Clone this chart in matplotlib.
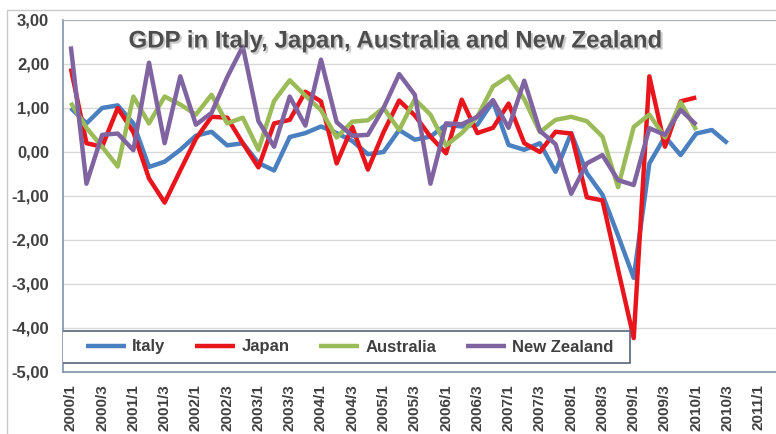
import numpy as np
import matplotlib.pyplot as plt
from matplotlib.patches import Rectangle
import matplotlib.patheffects as pe

plt.rcParams['font.family'] = ['Liberation Sans', 'DejaVu Sans']

# quarterly categories 2000/1 .. 2011/2
quarters = [f"{y}/{q}" for y in range(2000, 2012) for q in range(1, 5)][:46]
tick_labels = quarters[::2][:23]

italy = [1.00, 0.65, 1.00, 1.06, 0.65, -0.34, -0.22, 0.05, 0.37, 0.46,
         0.15, 0.20, -0.25, -0.42, 0.34, 0.43, 0.58, 0.43, 0.25, -0.05,
         0.00, 0.50, 0.28, 0.35, 0.62, 0.58, 0.62, 1.15, 0.16, 0.05,
         0.20, -0.45, 0.43, -0.48, -0.97, -1.90, -2.86, -0.26, 0.35, -0.07,
         0.42, 0.50, 0.20]
japan = [1.90, 0.20, 0.12, 1.00, 0.45, -0.60, -1.15, -0.42, 0.30, 0.80,
         0.78, 0.20, -0.35, 0.65, 0.73, 1.37, 1.15, -0.26, 0.57, -0.40,
         0.45, 1.17, 0.83, 0.35, -0.03, 1.19, 0.43, 0.55, 1.10, 0.20,
         0.00, 0.46, 0.42, -1.03, -1.10, -2.67, -4.23, 1.72, 0.12, 1.15,
         1.24]
australia = [1.12, 0.55, 0.12, -0.33, 1.26, 0.65, 1.26, 1.08, 0.85, 1.30,
             0.65, 0.78, 0.05, 1.16, 1.63, 1.28, 0.95, 0.33, 0.69, 0.72,
             1.00, 0.50, 1.20, 0.85, 0.15, 0.43, 0.80, 1.49, 1.72, 1.20,
             0.45, 0.73, 0.80, 0.70, 0.35, -0.80, 0.57, 0.85, 0.33, 1.13,
             0.50]
new_zealand = [2.40, -0.72, 0.39, 0.42, 0.04, 2.03, 0.20, 1.72, 0.62, 0.89,
               1.70, 2.40, 0.70, 0.12, 1.26, 0.60, 2.10, 0.68, 0.37, 0.39,
               1.00, 1.77, 1.30, -0.72, 0.65, 0.63, 0.80, 1.18, 0.55, 1.62,
               0.48, 0.18, -0.95, -0.26, -0.07, -0.64, -0.75, 0.54, 0.39, 0.96,
               0.62]

series = [("Italy", italy, "#4a7fc0"),
          ("Japan", japan, "#e8151c"),
          ("Australia", australia, "#9bbb59"),
          ("New Zealand", new_zealand, "#8064a2")]

W, H = 776, 434
fig = plt.figure(figsize=(W / 100, H / 100), dpi=100)
ax = fig.add_axes([63 / W, 1 - 372 / H, (W - 63) / W, 352 / H])

text_col = "#404040"

for name, vals, col in series:
    ax.plot(range(len(vals)), vals, color=col, lw=3.2, label=name,
            solid_joinstyle="round", solid_capstyle="butt", zorder=3)

ax.set_xlim(-0.5, 45.1)
ax.set_ylim(-5, 3)
ax.set_yticks(range(-5, 4))
ax.set_yticklabels([f"{v},00" for v in range(-5, 4)], fontsize=12,
                   fontweight="bold", color=text_col)
ax.set_xticks(range(0, 46, 2)[:23])
ax.set_xticklabels(tick_labels, rotation=90, fontsize=11,
                   fontweight="bold", color=text_col)
ax.tick_params(axis="both", length=0)
ax.tick_params(axis="y", pad=10)
ax.tick_params(axis="x", pad=9)
ax.grid(axis="y", color="#d9d9d9", lw=1)
ax.set_axisbelow(True)

for s in ["left", "bottom"]:
    ax.spines[s].set_color("#7f93ad")
    ax.spines[s].set_linewidth(1.2)
ax.spines["top"].set_color("#a9b0b8")
ax.spines["right"].set_visible(False)

# legend box
ax.add_patch(Rectangle((-1 / 713, 9 / 352), 568 / 713, 32 / 352,
                       transform=ax.transAxes, facecolor="white",
                       edgecolor="#56657a", lw=1.2, zorder=4))
leg = ax.legend(loc="center left", bbox_to_anchor=(15 / 713, 25 / 352),
                ncol=4, frameon=False, borderpad=0, handlelength=2.4,
                handletextpad=0.35, columnspacing=1.8,
                prop={"weight": "bold", "size": 12})
leg.set_zorder(5)
for t in leg.get_texts():
    t.set_color(text_col)

# outer chart border
fig.patches.append(Rectangle((7 / W, -0.05), 1.0, 1 - 10 / H + 0.05,
                             transform=fig.transFigure, facecolor="none",
                             edgecolor="#c9c9c9", lw=1))

fig.text(395 / W, 1 - 41 / H, "GDP in Italy, Japan, Australia and New Zealand",
         ha="center", va="center", fontsize=17.3, fontweight="bold",
         color="#4d4d4d",
         path_effects=[pe.withSimplePatchShadow(offset=(1.5, -1.5),
                                                shadow_rgbFace="#999999",
                                                alpha=0.5)])

fig.savefig("out.png", dpi=100)
